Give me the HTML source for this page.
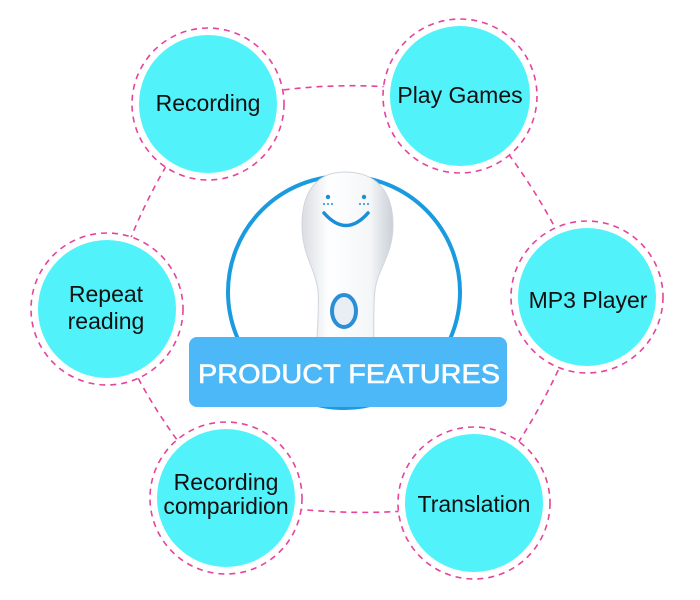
<!DOCTYPE html>
<html><head><meta charset="utf-8"><style>
html,body{margin:0;padding:0;background:#fff;}
svg{display:block;}
text{font-family:"Liberation Sans",sans-serif;}
</style></head><body>
<svg width="700" height="600" viewBox="0 0 700 600" xmlns="http://www.w3.org/2000/svg">
<defs>
<linearGradient id="pen" x1="0" x2="1" y1="0" y2="0">
<stop offset="0" stop-color="#d8dde2"/><stop offset="0.3" stop-color="#ffffff"/><stop offset="0.75" stop-color="#f4f6f8"/><stop offset="1" stop-color="#c9d0d6"/>
</linearGradient>
</defs>
<g stroke="#e6439a" stroke-width="1.6" stroke-dasharray="6,5" fill="none">
<path d="M208,104 Q334,72 460,96 Q543,184 587,297 Q550,411 474,503 Q350,524 226,498 Q146,415 107,309 Q137,196 208,104"/>
</g>
<g fill="#fff" stroke="#e6439a" stroke-width="1.6" stroke-dasharray="6,5">
<circle cx="208" cy="104" r="76"/>
<circle cx="460" cy="96" r="77"/>
<circle cx="587" cy="297" r="76"/>
<circle cx="474" cy="503" r="76"/>
<circle cx="226" cy="498" r="76"/>
<circle cx="107" cy="309" r="76"/>
</g>
<g fill="#52f2fb">
<circle cx="208" cy="104" r="69"/>
<circle cx="460" cy="96" r="70"/>
<circle cx="587" cy="297" r="69"/>
<circle cx="474" cy="503" r="69"/>
<circle cx="226" cy="498" r="69"/>
<circle cx="107" cy="309" r="69"/>
</g>
<g fill="#111" font-size="23" text-anchor="middle">
<text x="208" y="111">Recording</text>
<text x="460" y="103">Play Games</text>
<text x="588" y="308">MP3 Player</text>
<text x="474" y="512">Translation</text>
<text x="226" y="490">Recording</text>
<text x="226" y="514">comparidion</text>
<text x="106" y="302">Repeat</text>
<text x="106" y="329">reading</text>
</g>
<circle cx="344" cy="292" r="116" fill="#fff" stroke="#1a9be0" stroke-width="4"/>
<path d="M345,172 C375,172 393,190 393,225 C393,255 378,268 375,290 C372,320 376,345 372,380 L318,380 C314,345 320,320 318,290 C315,268 302,255 302,225 C302,190 318,172 345,172 Z" fill="url(#pen)" stroke="#d0d6dc" stroke-width="1"/>
<circle cx="328" cy="197" r="2.2" fill="#1a8fd8"/>
<circle cx="364" cy="197" r="2.2" fill="#1a8fd8"/>
<g fill="#1a8fd8"><circle cx="324" cy="204" r="1"/><circle cx="328" cy="204" r="1"/><circle cx="332" cy="204" r="1"/><circle cx="360" cy="204" r="1"/><circle cx="364" cy="204" r="1"/><circle cx="368" cy="204" r="1"/></g>
<path d="M324,213 Q346,238 368,213" fill="none" stroke="#1a8fd8" stroke-width="3.5" stroke-linecap="round"/>
<ellipse cx="344" cy="311" rx="12" ry="16" fill="#e8eef3" stroke="#2a8fd6" stroke-width="4"/>
<rect x="189" y="337" width="318" height="70" rx="8" fill="#4db8f7"/>
<text x="198" y="383" textLength="302" lengthAdjust="spacingAndGlyphs" fill="#fff" font-size="27" stroke="#fff" stroke-width="0.6">PRODUCT FEATURES</text>
</svg>
</body></html>
